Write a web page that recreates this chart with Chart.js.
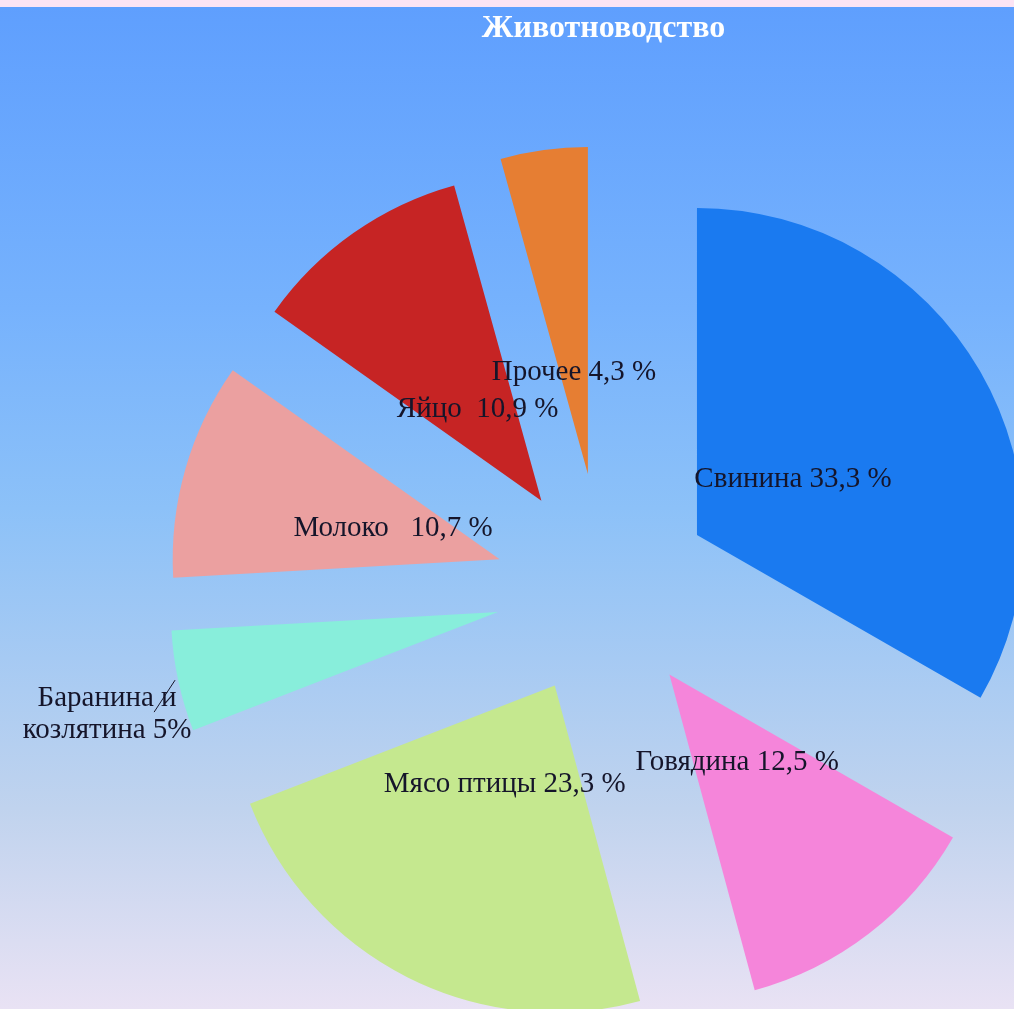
<!DOCTYPE html>
<html lang="ru">
<head>
<meta charset="utf-8">
<title>Животноводство</title>
<script src="https://cdn.jsdelivr.net/npm/chart.js@4.4.1/dist/chart.umd.min.js"></script>
<style>
  html, body { margin: 0; padding: 0; background: #fce4f4; }
  #wrap {
    position: absolute; left: 0; top: 7px; width: 1014px; height: 1002px;
    background: linear-gradient(to bottom, #5f9ffe 0%, #76b2fd 30%, #8cc1f8 50%, #c0d3ee 80%, #e9e2f4 100%);
  }
</style>
</head>
<body>
<div id="wrap"><canvas id="pie"></canvas></div>

<script>
/* Животноводство — exploded pie */

const categories = ['Свинина', 'Говядина', 'Мясо птицы', 'Баранина и козлятина', 'Молоко', 'Яйцо', 'Прочее'];
const shares     = [33.3, 12.5, 23.3, 5, 10.7, 10.9, 4.3];
const labelTexts = [
  ['Свинина 33,3 %'],
  ['Говядина 12,5 %'],
  ['Мясо птицы 23,3 %'],
  ['Баранина и', 'козлятина 5%'],
  ['Молоко   10,7 %'],
  ['Яйцо  10,9 %'],
  ['Прочее 4,3 %'],
];
const colors  = ['#1a7af0', '#f585da', '#c5e88f', '#88eedb', '#eba0a0', '#c62424', '#e67e33'];
const explode = [108, 108, 108, 108, 108, 108, 116];
const labelRadius = [219, 219, 219, 510, 219, 219, 219];
const labelNudge  = [[0, 0], [0, 0], [0, 0], [2, 17], [0, 0], [0, 0], [0, 0]];

const center = chart => ({
  x: (chart.chartArea.left + chart.chartArea.right) / 2,
  y: (chart.chartArea.top + chart.chartArea.bottom) / 2,
});

// pull every slice away from the centre along its middle angle
const explodePlugin = {
  id: 'explode',
  beforeDatasetsDraw(chart) {
    const c = center(chart);
    chart.getDatasetMeta(0).data.forEach((arc, i) => {
      const mid = (arc.startAngle + arc.endAngle) / 2;
      arc.x = c.x + Math.cos(mid) * explode[i];
      arc.y = c.y + Math.sin(mid) * explode[i];
    });
  },
};

const labelPlugin = {
  id: 'sliceLabels',
  afterDatasetsDraw(chart) {
    const ctx = chart.ctx;
    const c = center(chart);
    ctx.save();
    ctx.font = '29px "Liberation Serif", "Times New Roman", serif';
    ctx.fillStyle = '#15152a';
    ctx.textAlign = 'center';
    ctx.textBaseline = 'middle';
    chart.getDatasetMeta(0).data.forEach((arc, i) => {
      const mid = (arc.startAngle + arc.endAngle) / 2;
      const x = c.x + Math.cos(mid) * labelRadius[i] + labelNudge[i][0];
      const y = c.y + Math.sin(mid) * labelRadius[i] + labelNudge[i][1];
      const lines = labelTexts[i];
      const lh = 32;
      lines.forEach((t, k) => ctx.fillText(t, x, y + (k - (lines.length - 1) / 2) * lh));
      if (lines.length > 1) {
        // short leader towards the slice
        ctx.strokeStyle = '#15152a';
        ctx.lineWidth = 1;
        ctx.beginPath();
        ctx.moveTo(x + 47, y - 2);
        ctx.lineTo(x + 68, y - 34);
        ctx.stroke();
      }
    });
    ctx.restore();
  },
};

new Chart(document.getElementById('pie'), {
  type: 'pie',
  data: {
    labels: categories,
    datasets: [{
      data: shares,
      backgroundColor: colors,
      borderWidth: 0,
      clip: false,
    }],
  },
  options: {
    responsive: true, maintainAspectRatio: false,
    animation: false,
    radius: 327,
    layout: { padding: { left: 193, right: 0, top: 0, bottom: 0 } },
    plugins: {
      legend: { display: false },
      tooltip: { enabled: false },
      title: {
        display: true,
        text: 'Животноводство',
        color: '#ffffff',
        font: { family: '"Liberation Serif", serif', size: 32, weight: 'bold', lineHeight: 1.2 },
        padding: { top: 3, bottom: 120.6 },
      },
    },
  },
  plugins: [explodePlugin, labelPlugin],
});
</script>
</body>
</html>
